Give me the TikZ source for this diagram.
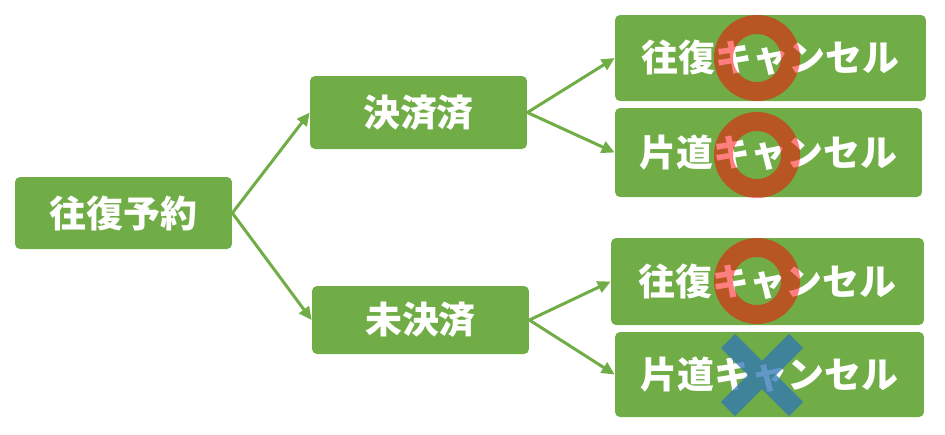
\documentclass[tikz,border=0pt]{standalone}
\usepackage{fontspec}
\usepackage{xcolor}
\usepackage{tikz}
\usetikzlibrary{arrows.meta}
\newfontfamily\jpfont{Noto Sans CJK JP}
\definecolor{stepgreen}{RGB}{112,173,71}
\definecolor{okred}{RGB}{255,0,0}
\definecolor{ngblue}{RGB}{46,117,182}

\begin{document}
\begin{tikzpicture}[x=0.02cm, y=-0.02cm,
    box/.style={rectangle, rounded corners=0.1cm, fill=stepgreen, text=white,
        inner sep=0pt, font=\jpfont\bfseries\fontsize{21}{25}\selectfont},
    flow/.style={draw=stepgreen, line width=0.06cm,
        -{Triangle[length=0.26cm, width=0.24cm]}},
    okmark/.style={draw=okred, opacity=0.5, line width=0.38cm},
    ngmark/.style={draw=ngblue, opacity=0.75, line width=0.4cm}]
    \useasboundingbox (0,0) rectangle (945,434);

    % left and middle column
    \node[box, minimum width=4.34cm, minimum height=1.44cm] (yoyaku) at (123.5,213) {往復予約};
    \node[box, minimum width=4.34cm, minimum height=1.46cm] (kessai) at (418.5,112.5) {決済済};
    \node[box, minimum width=4.34cm, minimum height=1.36cm] (mikessai) at (420.5,320) {未決済};

    % cancel cases
    \node[box, minimum width=6.22cm, minimum height=1.72cm] (kOufuku) at (770.5,58) {往復キャンセル};
    \node[box, minimum width=6.14cm, minimum height=1.78cm] (kKatamichi) at (768.5,152.5) {片道キャンセル};
    \node[box, minimum width=6.26cm, minimum height=1.74cm] (mOufuku) at (767.5,281.5) {往復キャンセル};
    \node[box, minimum width=6.18cm, minimum height=1.70cm] (mKatamichi) at (769.5,374.5) {片道キャンセル};

    \draw[flow] (yoyaku.east) -- (kessai.west);
    \draw[flow] (yoyaku.east) -- (mikessai.west);
    \draw[flow] (kessai.east) -- (kOufuku.west);
    \draw[flow] (kessai.east) -- (kKatamichi.west);
    \draw[flow] (mikessai.east) -- (mOufuku.west);
    \draw[flow] (mikessai.east) -- (mKatamichi.west);

    % OK / NG marks
    \draw[okmark] (757,58) circle[radius=33.5];
    \draw[okmark] (757,155) circle[radius=33.5];
    \draw[okmark] (757,281) circle[radius=33.5];
    \draw[ngmark] (728,341) -- (796,409) (796,341) -- (728,409);
\end{tikzpicture}
\end{document}
